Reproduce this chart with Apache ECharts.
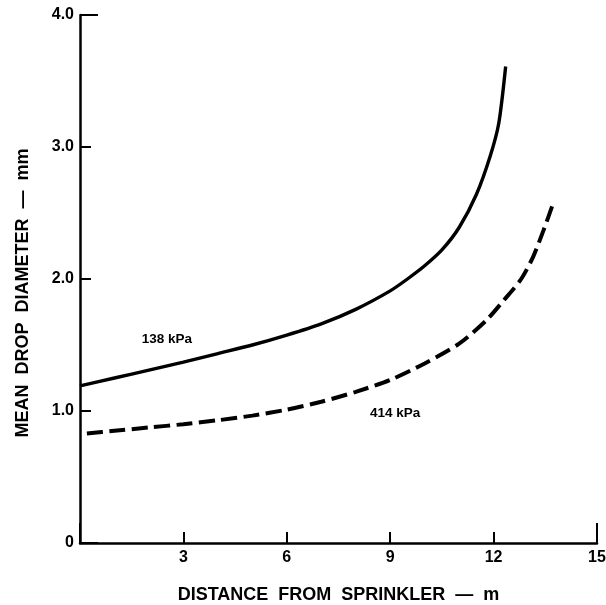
<!DOCTYPE html>
<html>
<head>
<meta charset="utf-8">
<script src="https://cdn.jsdelivr.net/npm/echarts@6/dist/echarts.min.js"></script>
<style>
  html, body { margin: 0; padding: 0; background: #fff; }
  #chart { width: 606px; height: 605px; }
</style>
</head>
<body>
<div id="chart"></div>
<script>
// distance from sprinkler (m) / mean drop diameter (mm)
var x138 = [0, 1, 2, 3, 4, 5, 6, 7, 8, 9, 9.5, 10, 10.5, 11, 11.5, 11.9, 12.15, 12.35];
var y138 = [1.19, 1.25, 1.31, 1.37, 1.435, 1.50, 1.575, 1.66, 1.77, 1.91, 2.00, 2.10, 2.22, 2.39, 2.64, 2.93, 3.18, 3.61];
var x414 = [0.2, 1, 2, 3, 4, 5, 6, 7, 8, 9, 10, 11, 11.8, 12.3, 12.8, 13.15, 13.45, 13.75];
var y414 = [0.83, 0.85, 0.875, 0.90, 0.93, 0.965, 1.01, 1.07, 1.145, 1.235, 1.36, 1.51, 1.69, 1.84, 2.00, 2.17, 2.37, 2.59];
var seriesNames = ['138 kPa', '414 kPa'];
var labelAt = [[2.52, 1.54], [9.14, 0.985]];

var FONT = 'Liberation Sans';
var INK = '#000';

function pairs(xs, ys){
  return xs.map(function(x, i){ return [x, ys[i]]; });
}

var chart = echarts.init(document.getElementById('chart'));

function curveLabel(i){
  return {
    symbol: 'circle',
    symbolSize: 0,
    data: [{ coord: labelAt[i] }],
    label: {
      show: true,
      position: 'inside',
      formatter: seriesNames[i],
      color: INK,
      fontFamily: FONT,
      fontWeight: 'bold',
      fontSize: 13.5
    }
  };
}

var option = {
  animation: false,
  backgroundColor: '#fff',
  grid: { left: 80, right: 9, top: 15, bottom: 62, outerBoundsMode: 'none', containLabel: false },
  xAxis: [
    {
      type: 'value',
      min: 0,
      max: 15,
      interval: 3,
      position: 'bottom',
      name: 'DISTANCE  FROM  SPRINKLER  \u2014  m',
      nameLocation: 'middle',
      nameGap: 43,
      nameTextStyle: { color: INK, fontFamily: FONT, fontWeight: 'bold', fontSize: 18 },
      axisLine: { onZero: false, lineStyle: { color: INK, width: 2.5 } },
      axisTick: { inside: true, length: 11, lineStyle: { color: INK, width: 2 } },
      axisLabel: {
        color: INK, fontFamily: FONT, fontWeight: 'bold', fontSize: 16, margin: 7,
        formatter: function(v){ return v === 0 ? '' : String(v); }
      },
      splitLine: { show: false }
    },
    {
      // long end tick at 15
      type: 'value',
      min: 0,
      max: 15,
      interval: 15,
      position: 'bottom',
      axisLine: { show: false, onZero: false },
      axisTick: { inside: true, length: 20, lineStyle: { color: INK, width: 2 } },
      axisLabel: { show: false },
      splitLine: { show: false }
    }
  ],
  yAxis: [
    {
      type: 'value',
      min: 0,
      max: 4,
      interval: 1,
      position: 'left',
      name: 'MEAN  DROP  DIAMETER  \u2014  mm',
      nameLocation: 'middle',
      nameGap: 48,
      nameTextStyle: {
        color: INK, fontFamily: FONT, fontWeight: 'bold', fontSize: 18,
        padding: [0, 28, 0, 0]
      },
      axisLine: { onZero: false, lineStyle: { color: INK, width: 2.5 } },
      axisTick: { inside: true, length: 11, lineStyle: { color: INK, width: 2 } },
      axisLabel: {
        color: INK, fontFamily: FONT, fontWeight: 'bold', fontSize: 16, margin: 6,
        formatter: function(v){ return v === 0 ? '0' : v.toFixed(1); }
      },
      splitLine: { show: false }
    },
    {
      // long end tick at 4.0
      type: 'value',
      min: 0,
      max: 4,
      interval: 4,
      position: 'left',
      axisLine: { show: false, onZero: false },
      axisTick: { inside: true, length: 18, lineStyle: { color: INK, width: 2 } },
      axisLabel: { show: false },
      splitLine: { show: false }
    }
  ],
  series: [
    {
      name: seriesNames[0],
      type: 'line',
      data: pairs(x138, y138),
      smooth: 0.25,
      showSymbol: false,
      lineStyle: { color: INK, width: 3.4 },
      markPoint: curveLabel(0)
    },
    {
      name: seriesNames[1],
      type: 'line',
      data: pairs(x414, y414),
      smooth: 0.25,
      showSymbol: false,
      lineStyle: { color: INK, width: 4, type: [16, 6.5] },
      markPoint: curveLabel(1)
    }
  ]
};

chart.setOption(option);
</script>
</body>
</html>
